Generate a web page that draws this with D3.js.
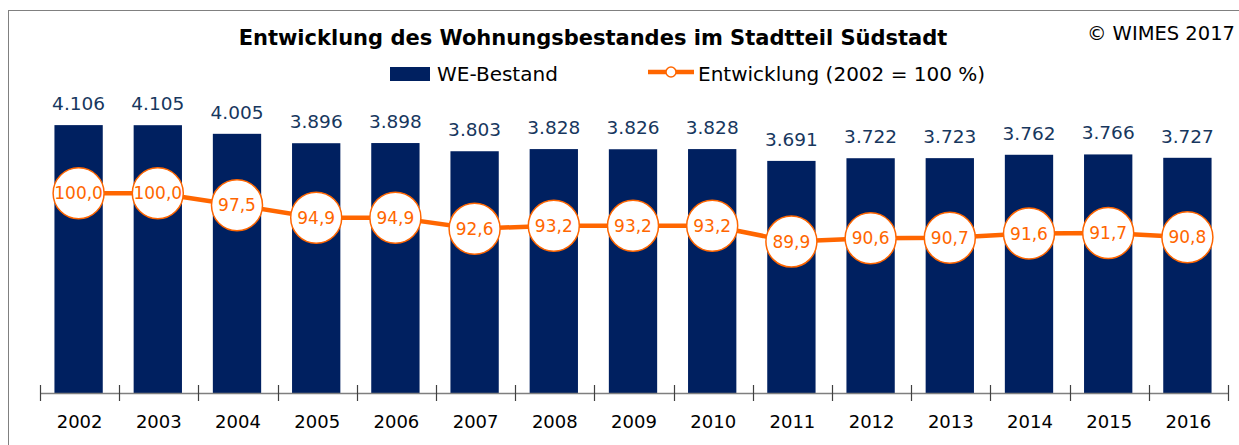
<!DOCTYPE html>
<html>
<head>
<meta charset="utf-8">
<script src="https://cdn.jsdelivr.net/npm/d3@7"></script>
<style>
  body { margin: 0; background: #fff; }
  svg { display: block; font-family: "DejaVu Sans", Verdana, sans-serif; }
</style>
</head>
<body>
<div id="chart"></div>
<script>
// chart data
var years = ["2002", "2003", "2004", "2005", "2006", "2007", "2008", "2009", "2010",
             "2011", "2012", "2013", "2014", "2015", "2016"];
var bestand = [4106, 4105, 4005, 3896, 3898, 3803, 3828, 3826, 3828,
               3691, 3722, 3723, 3762, 3766, 3727];
var entwicklung = [100.0, 100.0, 97.5, 94.9, 94.9, 92.6, 93.2, 93.2, 93.2,
                   89.9, 90.6, 90.7, 91.6, 91.7, 90.8];

var svgWidth = 1239;
var svgHeight = 445;

var svg = d3.select("#chart").append("svg")
  .attr("width", svgWidth)
  .attr("height", svgHeight);

// outer frame (only top and left edges visible)
svg.append("rect")
  .attr("x", 8.5).attr("y", 10.5)
  .attr("width", 1300).attr("height", 500)
  .attr("fill", "none")
  .attr("stroke", "#808080")
  .attr("stroke-width", 1);

// scales
var x = d3.scaleBand()
  .domain(years)
  .range([40, 1228])
  .paddingInner(0.39)
  .paddingOuter(0.195);

var yBar = d3.scaleLinear()
  .domain([1000, 5000])
  .range([393, 48]);

var yLine = d3.scaleLinear()
  .domain([58.3, 130.3])
  .range([393, 48]);

var fmtBar = function(v) { return d3.format(",")(v).replace(/,/g, "."); };
var fmtLine = function(v) { return d3.format(".1f")(v).replace(".", ","); };

var data = years.map(function(y, i) {
  return { year: y, bestand: bestand[i], index: entwicklung[i] };
});

var cx = d => x(d.year) - 1 + x.bandwidth() / 2;

// bars
svg.append("g").selectAll("rect")
  .data(data)
  .enter()
  .append("rect")
  .attr("x", d => x(d.year) - 1)
  .attr("y", d => yBar(d.bestand))
  .attr("width", x.bandwidth())
  .attr("height", d => yBar(1000) - yBar(d.bestand))
  .attr("fill", "#002060");

// bar labels
svg.append("g").selectAll("text")
  .data(data)
  .enter()
  .append("text")
  .attr("x", cx)
  .attr("y", d => yBar(d.bestand) - 15)
  .attr("text-anchor", "middle")
  .attr("fill", "#17375E")
  .style("font-size", "18.5px")
  .text(d => fmtBar(d.bestand));

// x axis line and boundary ticks
var axisY = 393.5;
svg.append("line")
  .attr("x1", 40).attr("x2", 1228)
  .attr("y1", axisY).attr("y2", axisY)
  .attr("stroke", "#7f7f7f")
  .attr("stroke-width", 1.5);

var bounds = d3.range(years.length + 1);
svg.append("g").selectAll("line")
  .data(bounds)
  .enter()
  .append("line")
  .attr("x1", i => Math.round(x.range()[0] + i * x.step()) + 0.5)
  .attr("x2", i => Math.round(x.range()[0] + i * x.step()) + 0.5)
  .attr("y1", 385).attr("y2", 401)
  .attr("stroke", "#404040")
  .attr("stroke-width", 1.2);

// year labels
svg.append("g").selectAll("text")
  .data(years)
  .enter()
  .append("text")
  .attr("x", d => x(d) + x.bandwidth() / 2)
  .attr("y", 428)
  .attr("text-anchor", "middle")
  .attr("fill", "#000")
  .style("font-size", "18px")
  .text(d => d);

// line
var line = d3.line()
  .x(cx)
  .y(d => yLine(d.index));

svg.append("path")
  .datum(data)
  .attr("d", line)
  .attr("fill", "none")
  .attr("stroke", "#FF6600")
  .attr("stroke-width", 4.5);

// circles with labels
svg.append("g").selectAll("circle")
  .data(data)
  .enter()
  .append("circle")
  .attr("cx", cx)
  .attr("cy", d => yLine(d.index))
  .attr("r", 25.5)
  .attr("fill", "#fff")
  .attr("stroke", "#FF6600")
  .attr("stroke-width", 1.5);

svg.append("g").selectAll("text")
  .data(data)
  .enter()
  .append("text")
  .attr("x", cx)
  .attr("y", d => yLine(d.index))
  .attr("dy", "0.36em")
  .attr("text-anchor", "middle")
  .attr("fill", "#FF6600")
  .style("font-size", "17px")
  .text(d => fmtLine(d.index));

// title
svg.append("text")
  .attr("x", 593)
  .attr("y", 45)
  .attr("text-anchor", "middle")
  .style("font-size", "21px")
  .style("font-weight", "bold")
  .attr("fill", "#000")
  .text("Entwicklung des Wohnungsbestandes im Stadtteil Südstadt");

// copyright
svg.append("text")
  .attr("x", 1235)
  .attr("y", 40)
  .attr("text-anchor", "end")
  .style("font-size", "19.5px")
  .attr("fill", "#000")
  .text("© WIMES 2017");

// legend
var legend = svg.append("g");
legend.append("rect")
  .attr("x", 390).attr("y", 67)
  .attr("width", 40).attr("height", 14)
  .attr("fill", "#002060");
legend.append("text")
  .attr("x", 437).attr("y", 81)
  .style("font-size", "20px")
  .text("WE-Bestand");
legend.append("line")
  .attr("x1", 648).attr("x2", 694)
  .attr("y1", 72).attr("y2", 72)
  .attr("stroke", "#FF6600")
  .attr("stroke-width", 4.5);
legend.append("circle")
  .attr("cx", 671).attr("cy", 72).attr("r", 5)
  .attr("fill", "#fff")
  .attr("stroke", "#FF6600")
  .attr("stroke-width", 1.5);
legend.append("text")
  .attr("x", 698).attr("y", 81)
  .style("font-size", "20px")
  .text("Entwicklung (2002 = 100 %)");
</script>
</body>
</html>
